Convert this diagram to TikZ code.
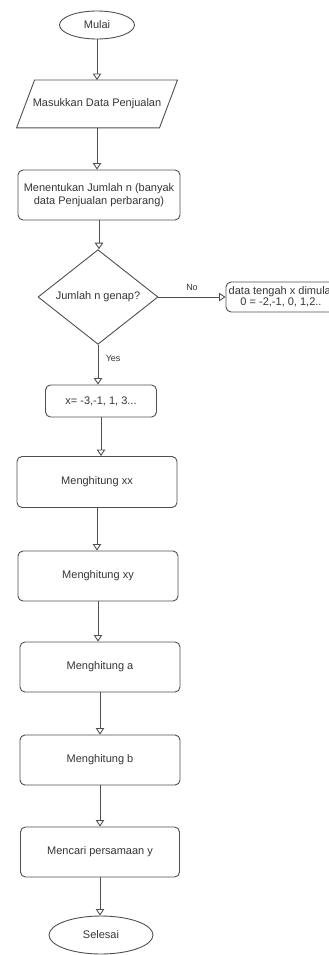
\documentclass[tikz,border=0pt]{standalone}
\usepackage{fontspec}
\setmainfont{Liberation Sans}
\usetikzlibrary{shapes.geometric,arrows.meta}
\definecolor{ln}{HTML}{505050}
\definecolor{tx}{HTML}{363636}
\tikzset{
  x=1pt, y=-1pt,
  base/.style={draw=ln, line width=0.9pt, text=tx, font=\fontsize{11}{13}\selectfont, align=center, inner sep=2pt},
  procbox/.style={base, rectangle, rounded corners=5pt},
  term/.style={base, ellipse},
  decision/.style={base, diamond, inner sep=0pt},
  flow/.style={draw=ln, line width=0.9pt, -{Triangle[open, length=6.5pt, width=8.5pt]}},
  lbl/.style={text=tx, font=\fontsize{9}{11}\selectfont}
}
\begin{document}
\begin{tikzpicture}
\useasboundingbox (0,0) rectangle (329,955);
\fill[white] (0,0) rectangle (329,955);

\node[term, minimum width=75, minimum height=28] (start) at (97,25) {Mulai};

\node[base, draw=none, minimum width=142, minimum height=47] (input) at (97,104) {Masukkan Data Penjualan};
\draw[draw=ln, line width=0.9pt, line join=miter]
  ([xshift=9]input.north west) -- ([xshift=9]input.north east)
  -- ([xshift=-9]input.south east) -- ([xshift=-9]input.south west) -- cycle;

\node[procbox, minimum width=162, minimum height=50] (count) at (99,195) {Menentukan Jumlah n (banyak\\data Penjualan perbarang)};

\node[decision, minimum width=120, minimum height=75] (even) at (98,297) {Jumlah n genap?};

\node[procbox, minimum width=110, minimum height=30, font=\fontsize{11}{11}\selectfont] (odd) at (281,297) {data tengah x dimulai\\0 = -2,-1, 0, 1,2..};

\node[procbox, minimum width=111, minimum height=32] (xev) at (101,401) {x= -3,-1, 1, 3...};
\node[procbox, minimum width=160, minimum height=51] (xx) at (97,482) {Menghitung xx};
\node[procbox, minimum width=160, minimum height=50] (xy) at (98,576) {Menghitung xy};
\node[procbox, minimum width=160, minimum height=50] (ca) at (100,667) {Menghitung a};
\node[procbox, minimum width=160, minimum height=50] (cb) at (100,760) {Menghitung b};
\node[procbox, minimum width=159, minimum height=50] (eq) at (100,852) {Mencari persamaan y};
\node[term, minimum width=104, minimum height=38] (stop) at (101,935) {Selesai};

\draw[flow] (start.south) -- (start.south |- input.north);
\draw[flow] (input.south) -- (input.south |- count.north);
\draw[flow] (count.south) -- (count.south |- even.north);
\draw[flow] (even.east) -- (even.east -| odd.west) node[lbl, pos=0.5, above=3pt] (no) {No};
\draw[flow] (even.south) -- (even.south |- xev.north) node[lbl, pos=0.35, right=4pt] (yes) {Yes};
\draw[flow] (xev.south) -- (xev.south |- xx.north);
\draw[flow] (xx.south) -- (xx.south |- xy.north);
\draw[flow] (xy.south) -- (xy.south |- ca.north);
\draw[flow] (ca.south) -- (ca.south |- cb.north);
\draw[flow] (cb.south) -- (cb.south |- eq.north);
\draw[flow] (eq.south) -- (eq.south |- stop.north);
\end{tikzpicture}
\end{document}
